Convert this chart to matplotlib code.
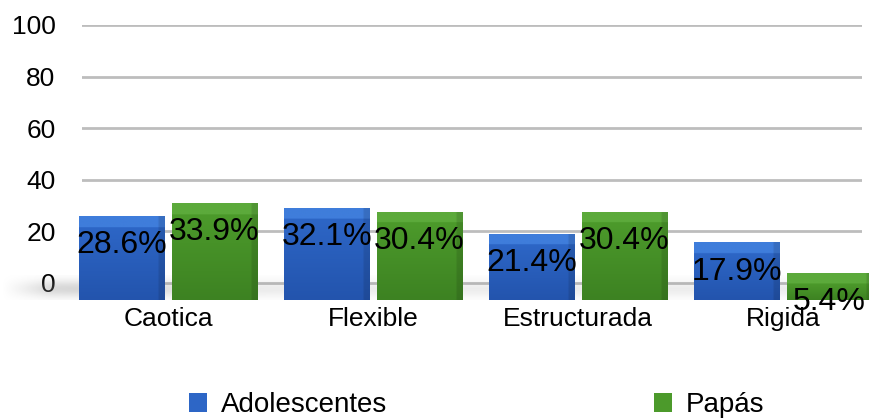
import numpy as np
import matplotlib.pyplot as plt
from matplotlib.patches import Patch

plt.rcParams['font.family'] = ['Liberation Sans', 'DejaVu Sans']

categorias = ['Caotica', 'Flexible', 'Estructurada', 'Rigida']
adolescentes = [28.6, 32.1, 21.4, 17.9]
papas = [33.9, 30.4, 30.4, 5.4]
series_nombres = ['Adolescentes', 'Papás']
yticks = [0, 20, 40, 60, 80, 100]

azul = ('#3f7ddb', '#2d66c6', '#2354ad')
verde = ('#5caa3b', '#4c9a2b', '#3d8222')


def gradiente(ax, barra, colores, tapa):
    x0, y0 = barra.get_x(), barra.get_y()
    x1, y1 = x0 + barra.get_width(), y0 + barra.get_height()
    arriba, medio, abajo = [np.array(plt.matplotlib.colors.to_rgb(c)) for c in colores]
    n = 120
    ys = np.linspace(y1, y0, n)
    img = np.zeros((n, 40, 3))
    for i, yy in enumerate(ys):
        if yy > y1 - tapa:
            c = arriba
        else:
            t = (y1 - tapa - yy) / max(y1 - tapa - y0, 1e-6)
            c = medio * (1 - t) + abajo * t
        img[i, :, :] = c
    # lado derecho un poco mas oscuro
    img[:, -3:, :] *= 0.88
    im = ax.imshow(img, extent=[x0, x1, y0, y1], aspect='auto',
                   interpolation='bilinear', zorder=3)
    im.set_clip_path(barra)


fig = plt.figure(figsize=(8.69, 4.19), dpi=100)
ax = fig.add_axes([82 / 869, 119 / 419, 780 / 869, 275 / 419])
ax.set_yticks(yticks)
ax.set_yticklabels([str(v) for v in yticks], fontsize=19)
ax.set_xticks(range(len(categorias)))
ax.set_xticklabels(categorias, fontsize=19)
ax.tick_params(axis='both', length=0)
ax.tick_params(axis='y', pad=19)
ax.tick_params(axis='x', pad=5)
ax.grid(axis='y', color='#bdbdbd', linewidth=2)
ax.set_axisbelow(True)
for s in ax.spines.values():
    s.set_visible(False)

# sombra del piso
sombra = np.zeros((40, 200, 4))
perfil_v = np.exp(-((np.linspace(0, 1, 40) - 0.55) / 0.35) ** 2)
perfil_h = 0.45 + 0.55 * np.exp(-((np.linspace(0, 1, 200) - 0.1) / 0.12) ** 2)
perfil_h[:12] *= np.linspace(0, 1, 12)
sombra[:, :, :3] = 0.55
sombra[:, :, 3] = 0.35 * perfil_v[:, None] * perfil_h[None, :]
ax.imshow(sombra, extent=[-0.82, 3.45, -6.6, 3.0], aspect='auto',
          interpolation='bilinear', zorder=1, clip_on=False)
ax.set_xlim(-0.42, 3.385)
ax.set_ylim(-6.6, 100)

# barras en el plano frontal
ax2 = ax.twinx()
base = -5.74
ax2.set_ylim(base, 107)
ax2.set_yticks([])
for s in ax2.spines.values():
    s.set_visible(False)

x = np.arange(len(categorias))
ancho = 0.415
sep = 0.225
for serie, desp, col in [(adolescentes, -sep, azul), (papas, sep, verde)]:
    barras = ax2.bar(x + desp, [v - base for v in serie], bottom=base, width=ancho,
                     color=col[1], zorder=2)
    for b in barras:
        b.set_clip_on(False)
        gradiente(ax2, b, col, 4.5)
    for xi, v in zip(x + desp, serie):
        ax2.annotate(f'{v}%', (xi, v), xytext=(0, -21), textcoords='offset points',
                     ha='center', va='center', fontsize=23, color='black',
                     zorder=5, annotation_clip=False)
ax2.set_xlim(-0.42, 3.385)

handles = [Patch(facecolor=azul[1]), Patch(facecolor=verde[1])]
fig.legend(handles, series_nombres, loc='center', bbox_to_anchor=(477 / 869, 0.033),
           ncol=2, frameon=False, fontsize=20, handlelength=0.65, handleheight=0.65,
           handletextpad=0.5, columnspacing=9.6)

fig.savefig('out.png', dpi=100)
